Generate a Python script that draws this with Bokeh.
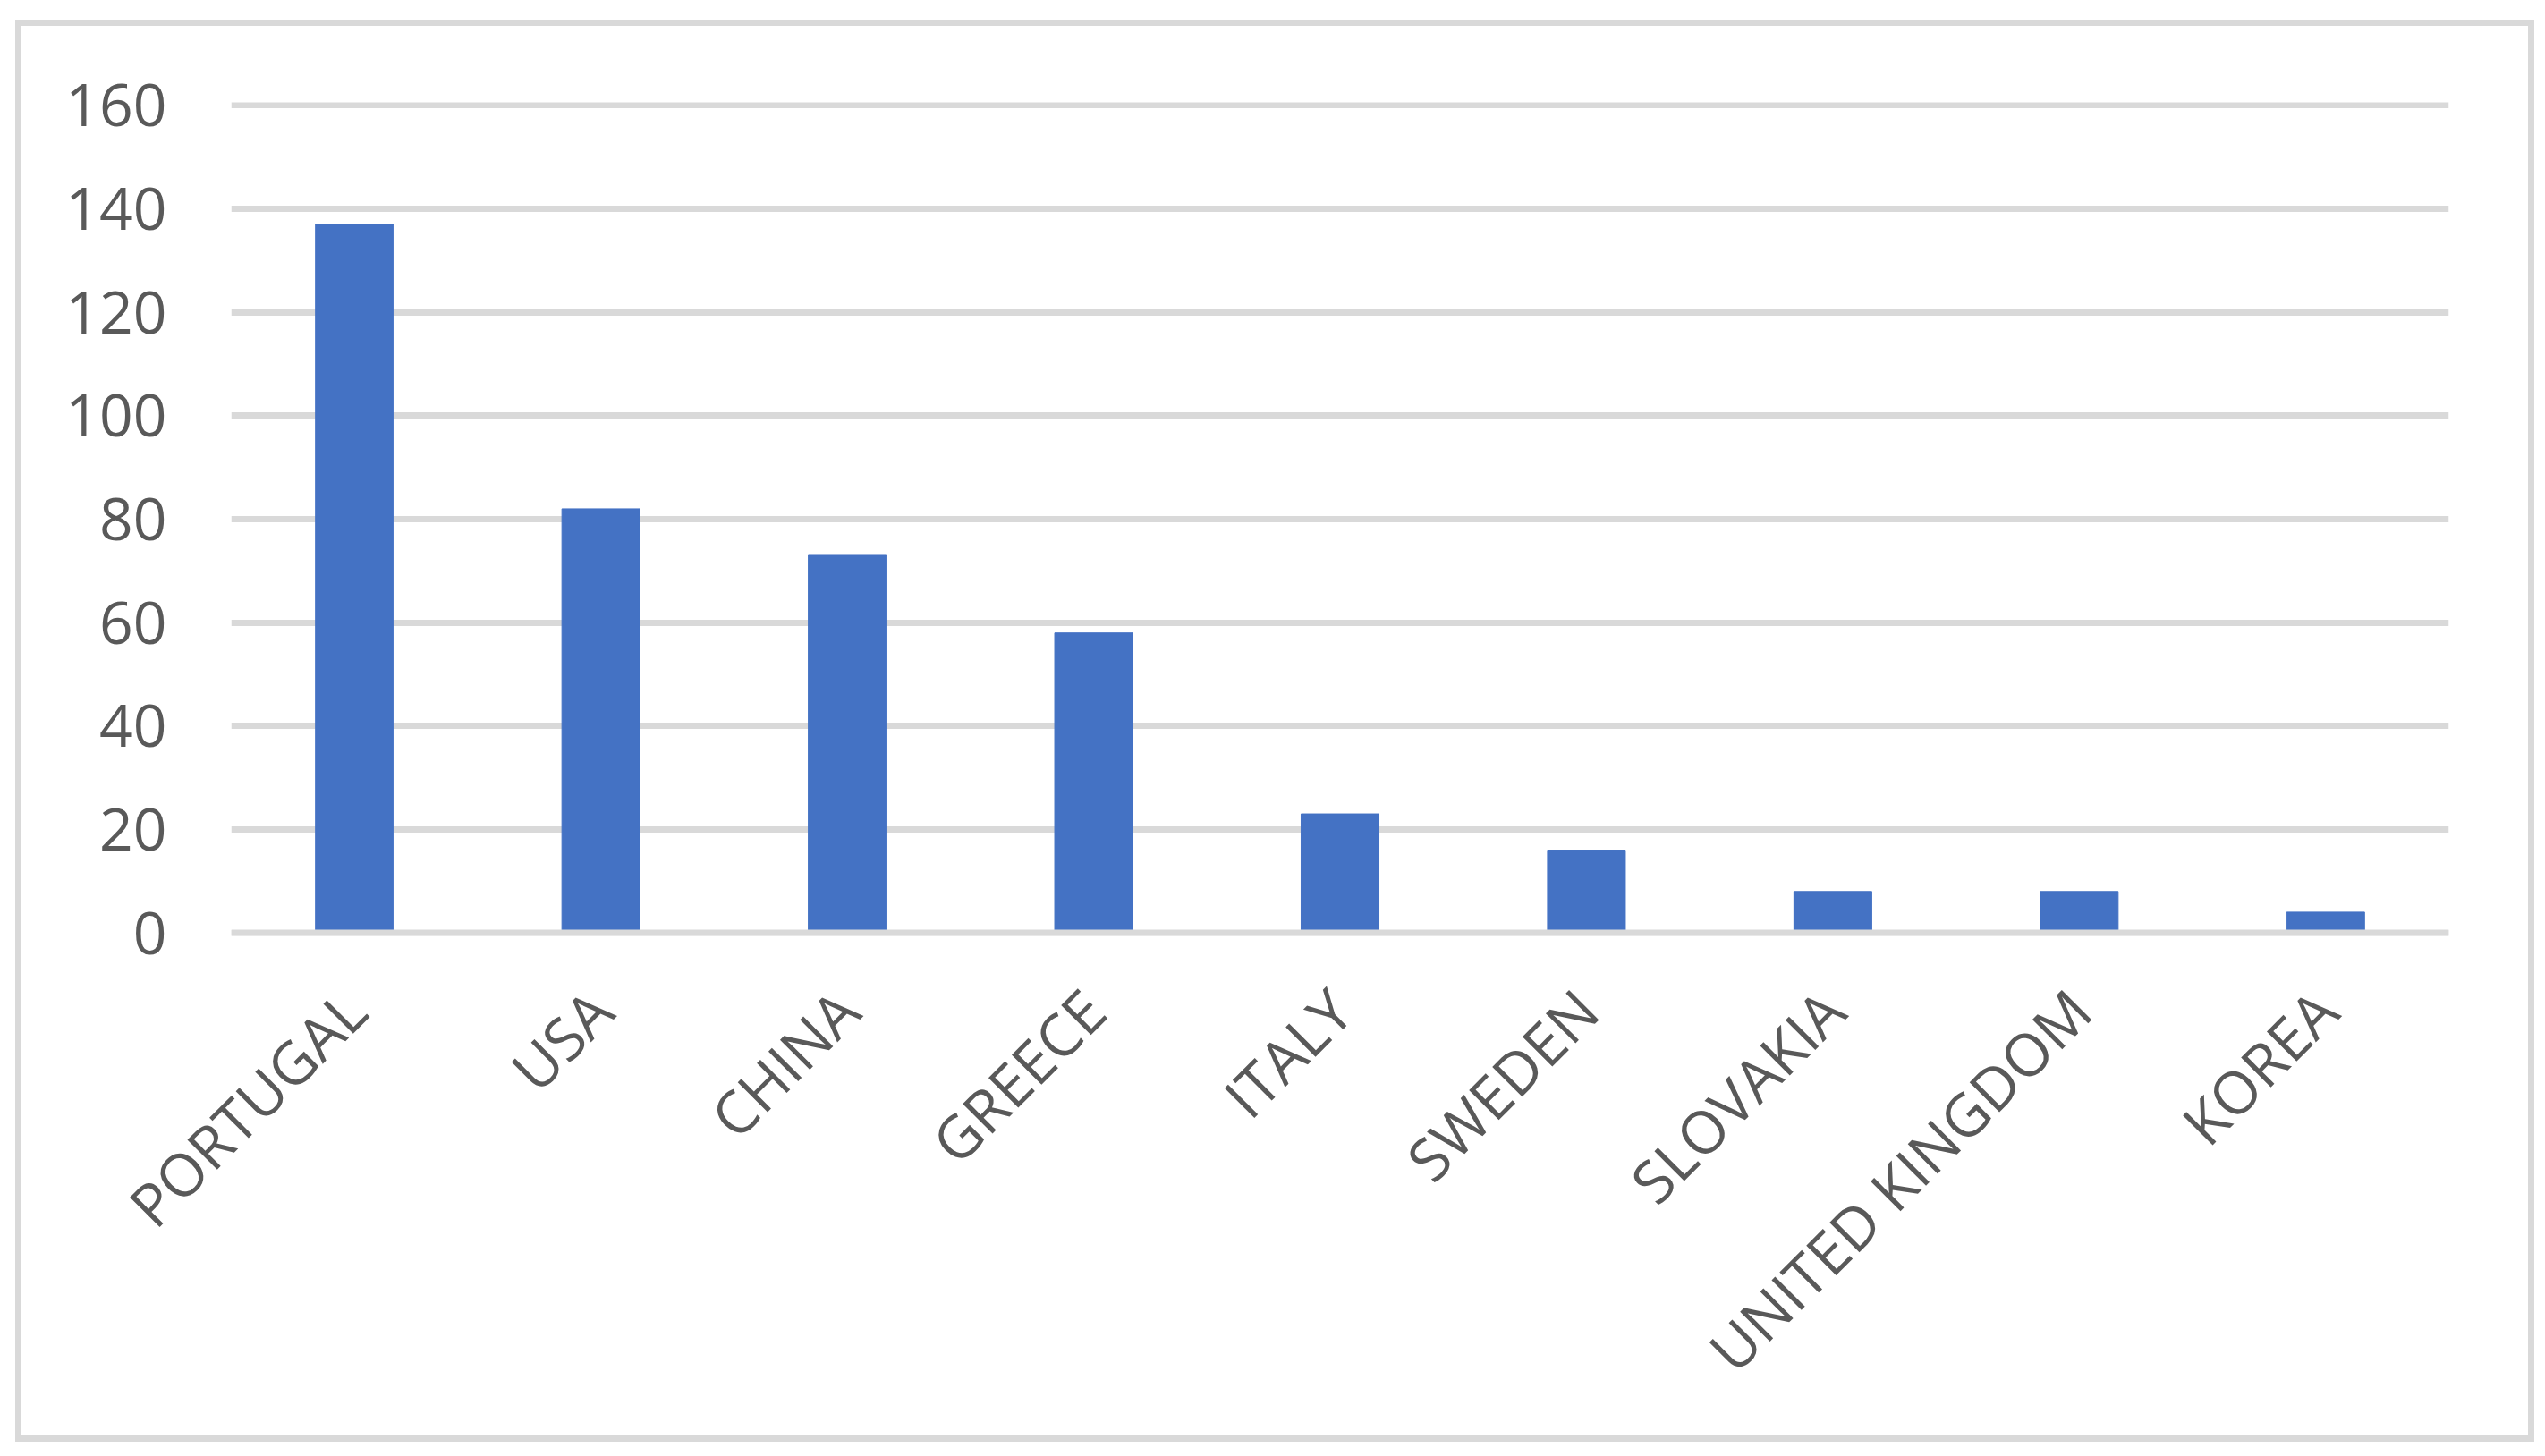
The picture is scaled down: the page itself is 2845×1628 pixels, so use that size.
import math
from bokeh.plotting import figure
from bokeh.models import FixedTicker, Range1d, Span
from bokeh.embed import file_html
from bokeh.resources import INLINE

countries = ["PORTUGAL", "USA", "CHINA", "GREECE", "ITALY", "SWEDEN",
             "SLOVAKIA", "UNITED KINGDOM", "KOREA"]
values = [137, 82, 73, 58, 23, 16, 8, 8, 4]
y_ticks = [0, 20, 40, 60, 80, 100, 120, 140, 160]

W, H = 2840, 1620
FONT = "Open Sans"
TXT = "#595959"
GRID = "#d9d9d9"

p = figure(x_range=countries, y_range=Range1d(-0.6, 160.6), width=W, height=H,
           output_backend="svg", toolbar_location=None,
           min_border_left=258, min_border_right=103,
           min_border_top=114, min_border_bottom=574)

# outer chart border (Excel chart area outline), painted behind a transparent canvas
g = "linear-gradient(#d9d9d9, #d9d9d9)"
p.styles = {
    "background-color": "white",
    "background-image": ", ".join([g] * 4),
    "background-repeat": "no-repeat",
    "background-position": "17px 22px, 17px 22px, 2826px 22px, 17px 1605px",
    "background-size": "7px 1590px, 2816px 7px, 7px 1590px, 2816px 7px",
}
p.title.visible = False
p.outline_line_color = None
p.background_fill_color = None
p.border_fill_color = None

p.vbar(x=countries, top=values, width=0.316, color="#4472C4")

p.xgrid.grid_line_color = None
p.ygrid.ticker = FixedTicker(ticks=y_ticks)
p.ygrid.grid_line_color = GRID
p.ygrid.grid_line_width = 7

# horizontal category axis line, drawn over the bar bases
p.add_layout(Span(location=0, dimension="width", line_color=GRID, line_width=7))

p.yaxis.ticker = FixedTicker(ticks=y_ticks)
for ax in (p.xaxis[0], p.yaxis[0]):
    ax.axis_line_color = None
    ax.major_tick_line_color = None
    ax.minor_tick_line_color = None
    ax.major_tick_out = 0
    ax.major_tick_in = 0
    ax.major_label_text_font = FONT
    ax.major_label_text_font_size = "66px"
    ax.major_label_text_color = TXT

p.yaxis.major_label_standoff = 72
p.xaxis.major_label_orientation = math.pi / 4
p.xaxis.major_label_standoff = 71

open("out.html", "w").write(file_html(p, INLINE))
